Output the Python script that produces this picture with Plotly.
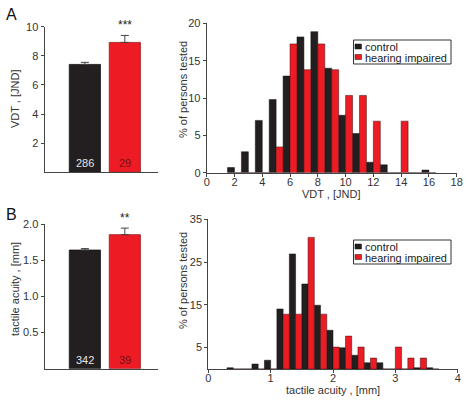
import plotly.graph_objects as go

W, H = 468, 404
def X(px): return px / W
def Y(py): return 1 - py / H

# ---- data ----
groups = ["control", "hearing impaired"]
vdt_mean = [7.41, 8.92]
vdt_err = [0.14, 0.48]
vdt_n = [286, 29]
vdt_sig = "***"

acu_mean = [1.64, 1.853]
acu_err = [0.02, 0.09]
acu_n = [342, 39]
acu_sig = "**"

vdt_bins = [2, 3, 4, 5, 6, 7, 8, 9, 10, 11, 12, 13, 14, 15, 16]
vdt_control = [0.70, 2.80, 7.00, 9.79, 12.94, 18.18, 18.88, 13.99, 7.69, 5.24, 1.40, 1.05, 0, 0, 0.35]
vdt_impaired = [0, 0, 0, 3.45, 17.24, 13.79, 17.24, 13.79, 10.34, 10.34, 6.90, 0, 6.90, 0, 0]

acu_bins = [0.4, 0.6, 0.8, 1.0, 1.2, 1.4, 1.6, 1.8, 2.0, 2.2, 2.4, 2.6, 2.8, 3.0, 3.2, 3.4, 3.6]
acu_control = [0.29, 0, 1.17, 2.05, 14.04, 26.90, 19.88, 14.91, 9.06, 4.97, 3.22, 1.46, 1.46, 0, 0, 0.29, 0.29]
acu_impaired = [0, 0, 0, 0, 12.82, 12.82, 30.77, 12.82, 5.13, 7.69, 5.13, 2.56, 0, 5.13, 2.56, 2.56, 0]

BLACK = "#231f20"
RED = "#ed1c24"
AX = "#444444"
FONT = "Liberation Sans, Arial, sans-serif"
TXT = "#333333"

fig = go.Figure()

# bar charts
fig.add_trace(go.Bar(x=groups, y=vdt_mean, width=0.78,
                     marker=dict(color=[BLACK, RED], line=dict(color=["#111111", "#9b1b1f"], width=0.8)),
                     error_y=dict(type="data", symmetric=False, array=vdt_err, arrayminus=[0, 0],
                                  color="#444", thickness=1, width=4),
                     xaxis="x", yaxis="y", showlegend=False))
fig.add_trace(go.Bar(x=groups, y=acu_mean, width=0.78,
                     marker=dict(color=[BLACK, RED], line=dict(color=["#111111", "#9b1b1f"], width=0.8)),
                     error_y=dict(type="data", symmetric=False, array=acu_err, arrayminus=[0, 0],
                                  color="#444", thickness=1, width=4),
                     xaxis="x3", yaxis="y3", showlegend=False))

# histograms
fig.add_trace(go.Bar(x=vdt_bins, y=vdt_control, width=0.5, offset=-0.5, name="control",
                     marker=dict(color=BLACK, line=dict(color="#111", width=0.5)),
                     xaxis="x2", yaxis="y2", showlegend=False))
fig.add_trace(go.Bar(x=vdt_bins, y=vdt_impaired, width=0.5, offset=0, name="hearing impaired",
                     marker=dict(color=RED, line=dict(color="#3a0a0a", width=0.5)),
                     xaxis="x2", yaxis="y2", showlegend=False))
fig.add_trace(go.Bar(x=acu_bins, y=acu_control, width=0.1, offset=-0.1, name="control",
                     marker=dict(color=BLACK, line=dict(color="#111", width=0.5)),
                     xaxis="x4", yaxis="y4", showlegend=False))
fig.add_trace(go.Bar(x=acu_bins, y=acu_impaired, width=0.1, offset=0, name="hearing impaired",
                     marker=dict(color=RED, line=dict(color="#3a0a0a", width=0.5)),
                     xaxis="x4", yaxis="y4", showlegend=False))

common = dict(showline=True, linecolor=AX, linewidth=1, showgrid=False, zeroline=False, automargin=False,
              tickfont=dict(family=FONT, size=11, color=TXT), tickcolor=AX, ticklen=3, tickwidth=1)
nolen = {k: v for k, v in common.items() if k != "ticklen"}

fig.update_layout(
    template="none", hovermode=False,
    width=W, height=H, margin=dict(l=0, r=0, t=0, b=0, pad=0), autosize=False,
    paper_bgcolor="white", plot_bgcolor="white", barmode="overlay",
    font=dict(family=FONT, size=11, color=TXT),
    xaxis=dict(domain=[X(44.5), X(158)], anchor="y", range=[-1.01, 1.83], showticklabels=False,
               ticks="", **nolen),
    yaxis=dict(domain=[Y(172.3), Y(26.7)], anchor="x", range=[0, 10], tickvals=[2, 4, 6, 8, 10],
               ticks="outside", **common),
    xaxis2=dict(domain=[X(206.7), X(456.7)], anchor="y2", range=[0, 18], tickvals=list(range(0, 19, 2)),
                ticks="outside", ticklabelstandoff=-4, **common),
    yaxis2=dict(domain=[Y(172.7), Y(23.3)], anchor="x2", range=[0, 20], tickvals=[0, 5, 10, 15, 20],
                ticks="outside", **common),
    xaxis3=dict(domain=[X(44.5), X(158)], anchor="y3", range=[-1.01, 1.83], showticklabels=False,
                ticks="", **nolen),
    yaxis3=dict(domain=[Y(368.7), Y(224)], anchor="x3", range=[0, 2], tickvals=[0.5, 1, 1.5, 2],
                ticktext=["0.5", "1.0", "1.5", "2.0"], ticks="outside", **common),
    xaxis4=dict(domain=[X(208.3), X(457.7)], anchor="y4", range=[0, 4], tickvals=[0, 1, 2, 3, 4],
                ticks="outside", ticklabelstandoff=-4, **common),
    yaxis4=dict(domain=[Y(369), Y(219.3)], anchor="x4", range=[0, 35], tickvals=[5, 15, 25, 35],
                ticks="outside", **common),
)

ann = []
def pa(text, px, py, size=11, color=TXT, xanchor="center", angle=0):
    return dict(text=text, x=X(px), y=Y(py), xref="paper", yref="paper", showarrow=False,
                xanchor=xanchor, yanchor="middle", textangle=angle,
                font=dict(size=size, color=color))

# panel letters
ann.append(pa("A", 11.5, 14, size=16, color="#111"))
ann.append(pa("B", 11.5, 214, size=16, color="#111"))
# y titles
for txt, px, py in [("VDT , [JND]", 15, 99), ("tactile acuity , [mm]", 15, 289),
                    ("% of persons tested", 183, 90), ("% of persons tested", 183, 281)]:
    ann.append(pa(txt, px, py, angle=-90))
# x titles
ann.append(pa("VDT , [JND]", 331, 193.5))
ann.append(pa("tactile acuity , [mm]", 333, 390))
# n labels and stars
ncol = ["#e6e6e6", "#7a0f12"]
for i, g in enumerate(groups):
    ann.append(dict(text=str(vdt_n[i]), x=g, y=0, xref="x", yref="y", xanchor="center", yanchor="bottom",
                    yshift=1, showarrow=False, font=dict(size=11, color=ncol[i])))
    ann.append(dict(text=str(acu_n[i]), x=g, y=0, xref="x3", yref="y3", xanchor="center", yanchor="bottom",
                    yshift=1, showarrow=False, font=dict(size=11, color=ncol[i])))
ann.append(dict(text=vdt_sig, x=groups[1], y=vdt_mean[1] + vdt_err[1], xref="x", yref="y",
                xanchor="center", yanchor="bottom", yshift=1, showarrow=False, font=dict(size=12, color="#222")))
ann.append(dict(text=acu_sig, x=groups[1], y=acu_mean[1] + acu_err[1], xref="x3", yref="y3",
                xanchor="center", yanchor="bottom", yshift=1, showarrow=False, font=dict(size=12, color="#222")))

# manual legends
shapes = []
for top in (40, 240):
    shapes.append(dict(type="rect", xref="paper", yref="paper", x0=X(353.5), x1=X(451),
                       y0=Y(top + 24), y1=Y(top), line=dict(color="#333", width=1), fillcolor="white"))
    shapes.append(dict(type="rect", xref="paper", yref="paper", x0=X(355), x1=X(361.5),
                       y0=Y(top + 9), y1=Y(top + 4), line=dict(color="#111", width=0.5), fillcolor=BLACK))
    shapes.append(dict(type="rect", xref="paper", yref="paper", x0=X(355), x1=X(361.5),
                       y0=Y(top + 19.5), y1=Y(top + 14.5), line=dict(color="#111", width=0.5), fillcolor=RED))
    ann.append(pa("control", 362.5, top + 6.5, color="#222", xanchor="left"))
    ann.append(pa("hearing impaired", 362.5, top + 17.5, color="#222", xanchor="left"))

fig.update_layout(annotations=ann, shapes=shapes)
fig.write_html("out.html", config={"responsive": False, "displayModeBar": False, "staticPlot": True},
               post_script="document.body.style.margin='0';document.body.style.overflow='hidden';")
